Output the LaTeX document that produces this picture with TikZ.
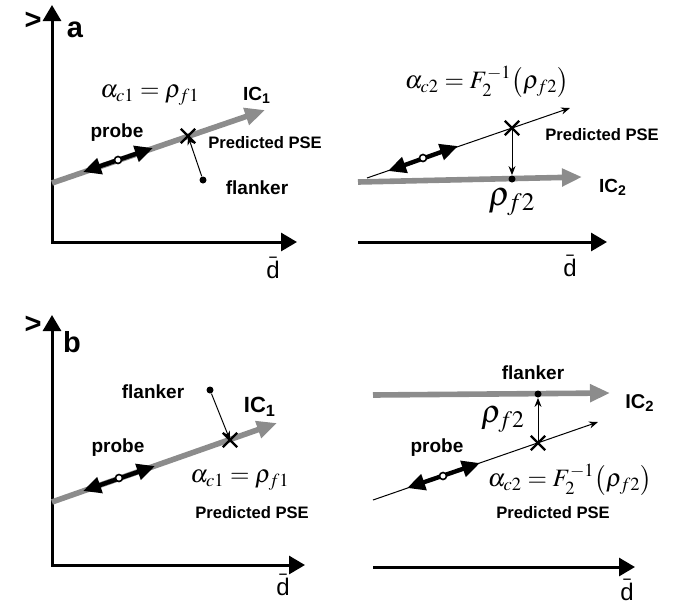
\documentclass[tikz,border=0pt]{standalone}
\usepackage{mathptmx}
\usepackage{fontspec}
\setsansfont{Liberation Sans}
\usepackage{tikz}
\usetikzlibrary{arrows.meta,positioning,calc,shapes.misc}

\begin{document}
\begin{tikzpicture}[x=0.5pt,y=-0.5pt,>=Stealth,
 every node/.style={font=\sffamily\bfseries\fontsize{9.5}{11}\selectfont},
 axis/.style={line width=1.5pt,line join=miter,-{Triangle[length=8pt,width=9pt]}},
 icline/.style={line width=2.8pt,black!45,-{Triangle[length=10pt,width=8.5pt]}},
 probearr/.style={line width=2.2pt,{Triangle[length=9pt,width=8pt]}-{Triangle[length=9pt,width=8pt]}},
 fineline/.style={line width=0.5pt,-{Stealth[length=4.5pt,width=3.5pt]}},
 dot/.style={circle,fill=black,inner sep=0pt,minimum size=3.5pt},
 hole/.style={circle,draw,fill=white,line width=0.8pt,inner sep=0pt,minimum size=3.5pt},
 psex/.style={cross out,draw,line width=1.2pt,minimum size=6pt,inner sep=0pt},
 psetext/.style={font=\sffamily\bfseries\fontsize{8.3}{10}\selectfont},
 mth/.style={font=\fontsize{12.5}{14}\selectfont},
 dbar/.style={font=\sffamily\fontsize{12}{14}\selectfont},
 panel/.style={font=\sffamily\bfseries\fontsize{14.5}{16}\selectfont}]
\useasboundingbox (0,0) rectangle (675,607);
% panel a, left
\coordinate (ya) at (52,5);\coordinate (oa) at (52,242);\coordinate (xa) at (297,242);
\draw[axis,{Triangle[length=8pt,width=9pt]}-{Triangle[length=8pt,width=9pt]}] (ya)--(oa)--(xa);
\coordinate (ica0) at (52,183);\coordinate (ica1) at (265,110);
\draw[icline] (ica0)--(ica1);
\coordinate (pa0) at (83,172);\coordinate (pa1) at (153,148);
\draw[probearr] (pa0)--(pa1);\node[hole](ha) at (118,160){};
\node[psex](xa1) at (188,136){};\node[dot](fa) at (203,180){};
\draw[fineline] (fa)--(xa1.center);
\node[mth](ala) at (150,95){$\alpha_{c1}=\rho_{f1}$};
\node(ica) at (257,95){IC\textsubscript{1}};
\node(pra) at (117,133){probe};\node(fla) at (257,188){flanker};
\node[psetext](psa) at (265,143){Predicted PSE};
\node[panel](la) at (75,30){a};\node[panel](gta) at (33,21){>};
\node[dbar](da) at (273,268){$\bar{\mbox{d}}$};
% panel a, right
\coordinate (xb0) at (358,242);\coordinate (xb1) at (607,242);
\draw[axis] (xb0)--(xb1);
\coordinate (icb0) at (358,182);\coordinate (icb1) at (582,177);
\draw[icline] (icb0)--(icb1);
\coordinate (tb0) at (367,178);\coordinate (tb1) at (570,108);
\draw[fineline] (tb0)--(tb1);
\coordinate (pb0) at (388,171);\coordinate (pb1) at (458,146);
\draw[probearr] (pb0)--(pb1);\node[hole](hb) at (423,158){};
\node[psex](xb) at (512,128){};\node[dot](fb) at (512,179){};
\draw[fineline] (xb.center)--(fb);
\node[mth](alb) at (487,82){$\alpha_{c2}=F_2^{-1}\!\left(\rho_{f2}\right)$};
\node[mth,font=\fontsize{17}{19}\selectfont](rhb) at (512,202){$\rho_{f2}$};
\node(icb) at (613,187){IC\textsubscript{2}};
\node[psetext](psb) at (602,135){Predicted PSE};
\node[dbar](db) at (570,266){$\bar{\mbox{d}}$};
% panel b, left
\coordinate (yc) at (52,315);\coordinate (oc) at (52,565);\coordinate (xc) at (305,565);
\draw[axis,{Triangle[length=8pt,width=9pt]}-{Triangle[length=8pt,width=9pt]}] (yc)--(oc)--(xc);
\coordinate (icc0) at (52,502);\coordinate (icc1) at (277,423);
\draw[icline] (icc0)--(icc1);
\coordinate (pc0) at (83,491);\coordinate (pc1) at (155,466);
\draw[probearr] (pc0)--(pc1);\node[hole](hc) at (119,478){};
\node[psex](xc1) at (230,440){};\node[dot](fc) at (210,390){};
\draw[fineline] (fc)--(xc1.center);
\node[mth](alc) at (240,480){$\alpha_{c1}=\rho_{f1}$};
\node[font=\sffamily\bfseries\fontsize{11}{13}\selectfont](icc) at (260,407){IC\textsubscript{1}};
\node(prc) at (118,448){probe};\node(flc) at (153,392){flanker};
\node[psetext](psc) at (252,513){Predicted PSE};
\node[panel](lb) at (72,342){b};\node[panel](gtc) at (33,325){>};
\node[dbar](dc) at (283,585){$\bar{\mbox{d}}$};
% panel b, right
\coordinate (xd0) at (373,567);\coordinate (xd1) at (635,567);
\draw[axis] (xd0)--(xd1);
\coordinate (icd0) at (373,395);\coordinate (icd1) at (610,393);
\draw[icline] (icd0)--(icd1);
\coordinate (td0) at (373,500);\coordinate (td1) at (598,422);
\draw[fineline] (td0)--(td1);
\coordinate (pd0) at (407,488);\coordinate (pd1) at (480,463);
\draw[probearr] (pd0)--(pd1);\node[hole](hd) at (443,476){};
\node[psex](xd) at (538,443){};\node[dot](fd) at (538,394){};
\draw[fineline] (xd.center)--(fd);
\node[mth](ald) at (570,480){$\alpha_{c2}=F_2^{-1}\!\left(\rho_{f2}\right)$};
\node[mth,font=\fontsize{16}{18}\selectfont](rhd) at (503,420){$\rho_{f2}$};
\node[font=\sffamily\bfseries\fontsize{10}{12}\selectfont](icd) at (640,403){IC\textsubscript{2}};
\node(prd) at (437,448){probe};\node(fld) at (533,373){flanker};
\node[psetext](psd) at (553,513){Predicted PSE};
\node[dbar](dd) at (627,590){$\bar{\mbox{d}}$};
\end{tikzpicture}
\end{document}
